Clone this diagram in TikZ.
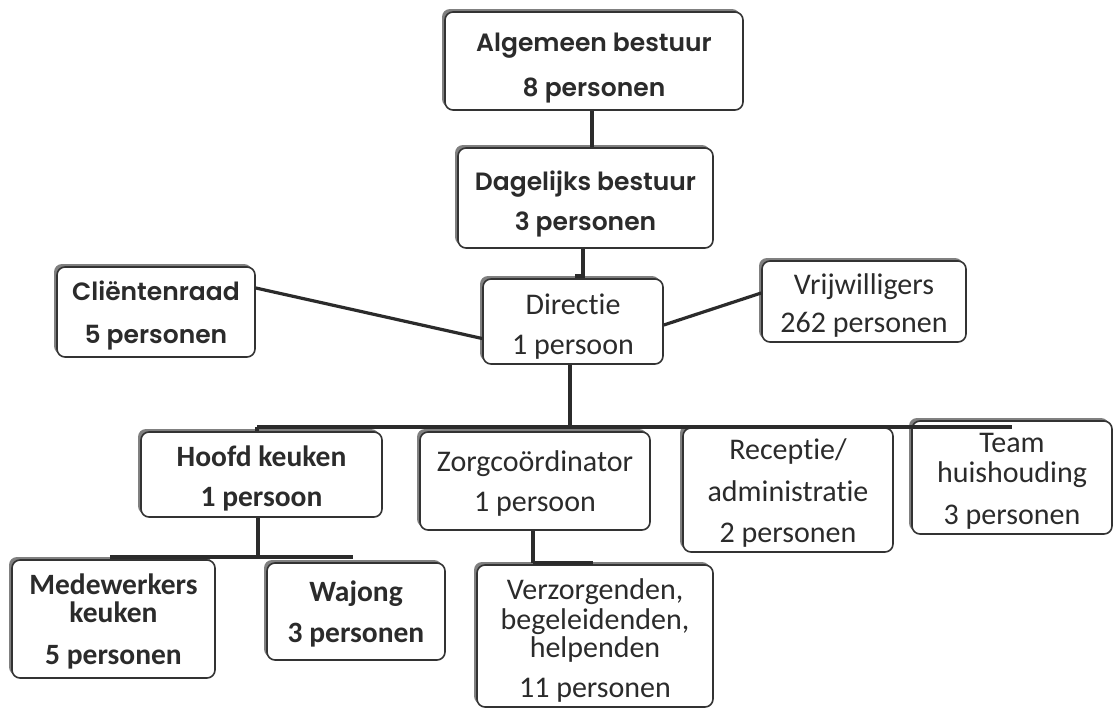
\documentclass[tikz,border=0pt]{standalone}
\usepackage{fontspec}
\usetikzlibrary{shadows}
\newfontfamily\gfont{Poppins SemiBold}
\newfontfamily\cfont{Carlito}[Ligatures=NoCommon]
\definecolor{ink}{HTML}{2B2B2B}
\definecolor{edge}{HTML}{333333}
\newcommand\tp[1]{\rule{0pt}{#1pt}}
\newcommand\bt{\rule[-10pt]{0pt}{10pt}}
\tikzset{
  box/.style={draw=edge, line width=1.6pt, rounded corners=8pt, fill=white,
    align=center, inner sep=0pt, text=ink,
    general shadow={shadow xshift=-3pt, shadow yshift=3pt, fill=black!50}},
  gbox/.style={box, font=\gfont\fontsize{25}{40}\selectfont},
  cbox/.style={box, font=\cfont\fontsize{30}{36}\selectfont},
  bbox/.style={box, font=\cfont\bfseries\fontsize{29.5}{36}\selectfont},
  gline/.style={draw=ink, line width=3.2pt},
  busline/.style={draw=ink, line width=4.5pt},
}
\begin{document}
\begin{tikzpicture}[x=1pt,y=-1pt]
\useasboundingbox[fill=white] (0,0) rectangle (1116,707);
% boxes
\node[gbox, minimum width=298pt, minimum height=98pt] (alg) at (594,61) {\tp{35}Algemeen bestuur\\[5pt]8 personen\bt};
\node[gbox, minimum width=255pt, minimum height=100pt] (dag) at (585.5,198) {\tp{34}Dagelijks bestuur\\3 personen\bt};
\node[gbox, minimum width=198pt, minimum height=90pt] (cli) at (156,312) {\tp{29}Cliëntenraad\\[3pt]5 personen\bt};
\node[cbox, minimum width=180pt, minimum height=81pt] (dir) at (573,321.5) {\tp{35}Directie\\[4pt]1 persoon\bt};
\node[cbox, minimum width=204pt, minimum height=77pt] (vri) at (864,301.5) {\tp{33}Vrijwilligers\\[2pt]262 personen\bt};
\node[bbox, minimum width=241pt, minimum height=85pt] (hk) at (261.5,474.5) {\tp{33}Hoofd keuken\\[4pt]1 persoon\bt};
\node[cbox, minimum width=230pt, minimum height=98pt] (zc) at (535,481) {\tp{30}Zorgcoördinator\\[4pt]1 persoon\bt};
\node[cbox, minimum width=210pt, minimum height=120pt] (rec) at (788,490) {\tp{31}Receptie/\\[6pt]administratie\\[5pt]2 personen\bt};
\node[cbox, minimum width=200pt, minimum height=105pt] (team) at (1012,477.5) {\tp{31}Team\\[-6pt]huishouding\\[6pt]3 personen\bt};
\node[bbox, minimum width=203pt, minimum height=118pt] (mk) at (113.5,619) {\tp{30}Medewerkers\\[-8pt]keuken\\[6pt]5 personen\bt};
\node[bbox, minimum width=178pt, minimum height=97pt] (waj) at (356,611.5) {\tp{30}Wajong\\[5pt]3 personen\bt};
\node[cbox, minimum width=236pt, minimum height=138pt] (ver) at (595,636) {\tp{34}Verzorgenden,\\[-6pt]begeleidenden,\\[-8pt]helpenden\\[4pt]11 personen\bt};
% connector coordinates
\coordinate (x1) at (592,0);
\coordinate (x2) at (583,276);
\coordinate (x3) at (577,276);
\coordinate (bx) at (570,427);
\coordinate (bl) at (257,427);
\coordinate (br) at (1012,427);
\coordinate (sx) at (258,557);
\coordinate (sl) at (110,557);
\coordinate (sr) at (353,557);
\coordinate (zx) at (533,563);
\coordinate (zr) at (593,563);
% connectors
\draw[gline] (alg.south -| x1) -- (dag.north -| x1);
\draw[gline] (dag.south -| x2) -- (x2) -- (x3) -- (dir.north -| x3);
\draw[gline] ([yshift=24pt]cli.east) -- ([yshift=-17pt]dir.west);
\draw[gline] ([yshift=-3.5pt]dir.east) -- ([yshift=8.5pt]vri.west);
\draw[gline] (dir.south -| bx) -- (bx);
\draw[busline] (bl) -- (br);
\draw[gline] (bl) -- (hk.north -| bl);
\draw[gline] (hk.south -| sx) -- (sx);
\draw[busline] (sl) -- (sr);
\draw[gline] (zc.south -| zx) -- (zx);
\draw[busline] (zx) -- (zr);
\end{tikzpicture}
\end{document}
